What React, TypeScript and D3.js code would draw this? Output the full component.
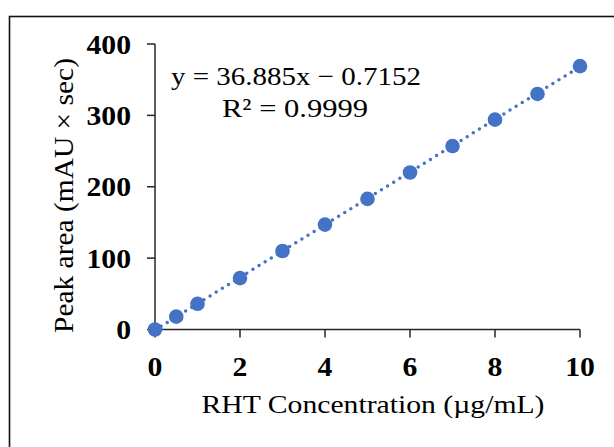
import React from "react";
import * as d3 from "d3";

const concentrations = [0, 0.5, 1, 2, 3, 4, 5, 6, 7, 8, 9, 10];
const peakAreas = [0, 18, 36, 72, 110, 147, 183, 220, 257, 294, 330, 369];
const xTicks = [0, 2, 4, 6, 8, 10];
const yTicks = [0, 100, 200, 300, 400];
const slope = 36.885;
const intercept = -0.7152;
const equationLine = "y = 36.885x − 0.7152";
const r2Line = "R² = 0.9999";
const xTitle = "RHT Concentration (µg/mL)";
const yTitle = "Peak area (mAU × sec)";

const W = 614;
const H = 447;
const BLUE = "#4472C4";
const FONT = "'Liberation Serif', 'Times New Roman', Times, serif";
const SX = 1.1;

export default function App() {
  const x = d3.scaleLinear().domain([0, 10]).range([155, 580]);
  const y = d3.scaleLinear().domain([0, 400]).range([329.5, 44]);
  const trend = d3
    .line<number>()
    .x((d) => x(d))
    .y((d) => y(slope * d + intercept));
  const axisColor = "#262626";

  return (
    <svg
      width={W}
      height={H}
      style={{ position: "absolute", left: 0, top: 0, background: "#fff" }}
    >
      <rect x={0} y={0} width={W} height={H} fill="#fff" />
      <rect x={9.5} y={16.5} width={700} height={500} fill="none" stroke="#111" strokeWidth={1.6} />

      {/* axes */}
      <line x1={x(0)} x2={x(0)} y1={y(400)} y2={y(0)} stroke={axisColor} strokeWidth={1.5} />
      <line x1={x(0)} x2={x(10)} y1={y(0)} y2={y(0)} stroke={axisColor} strokeWidth={1.5} />
      {yTicks.map((t) => (
        <g key={"y" + t}>
          <line x1={x(0) - 8} x2={x(0)} y1={y(t)} y2={y(t)} stroke={axisColor} strokeWidth={1.5} />
          <text
            transform={`translate(${131},${y(t) + 9.5}) scale(${SX},1)`}
            textAnchor="end"
            fontFamily={FONT}
            fontWeight="bold"
            fontSize={27}
            fill="#000"
          >
            {t}
          </text>
        </g>
      ))}
      {xTicks.map((t) => (
        <g key={"x" + t}>
          <line x1={x(t)} x2={x(t)} y1={y(0)} y2={y(0) + 8} stroke={axisColor} strokeWidth={1.5} />
          <text
            transform={`translate(${x(t)},${375.5}) scale(${SX},1)`}
            textAnchor="middle"
            fontFamily={FONT}
            fontWeight="bold"
            fontSize={27}
            fill="#000"
          >
            {t}
          </text>
        </g>
      ))}

      {/* trendline */}
      <path
        d={trend([0, 10]) || ""}
        fill="none"
        stroke={BLUE}
        strokeWidth={3.5}
        strokeLinecap="round"
        strokeDasharray="0 7.2"
      />

      {/* points */}
      {concentrations.map((c, i) => (
        <circle key={i} cx={x(c)} cy={y(peakAreas[i])} r={7.3} fill={BLUE} />
      ))}

      {/* equation */}
      <text
        x={296}
        y={85}
        textAnchor="middle"
        fontFamily={FONT}
        fontSize={26}
        textLength={250}
        lengthAdjust="spacingAndGlyphs"
        fill="#000"
      >
        {equationLine}
      </text>
      <text
        x={295}
        y={117}
        textAnchor="middle"
        fontFamily={FONT}
        fontSize={26}
        textLength={146}
        lengthAdjust="spacingAndGlyphs"
        fill="#000"
      >
        {r2Line}
      </text>

      {/* axis titles */}
      <text
        x={373}
        y={413}
        textAnchor="middle"
        fontFamily={FONT}
        fontSize={26}
        textLength={343}
        lengthAdjust="spacingAndGlyphs"
        fill="#000"
      >
        {xTitle}
      </text>
      <text
        transform={`translate(${73},${195.5}) rotate(-90)`}
        textAnchor="middle"
        fontFamily={FONT}
        fontSize={27}
        textLength={275}
        lengthAdjust="spacingAndGlyphs"
        fill="#000"
      >
        {yTitle}
      </text>
    </svg>
  );
}
